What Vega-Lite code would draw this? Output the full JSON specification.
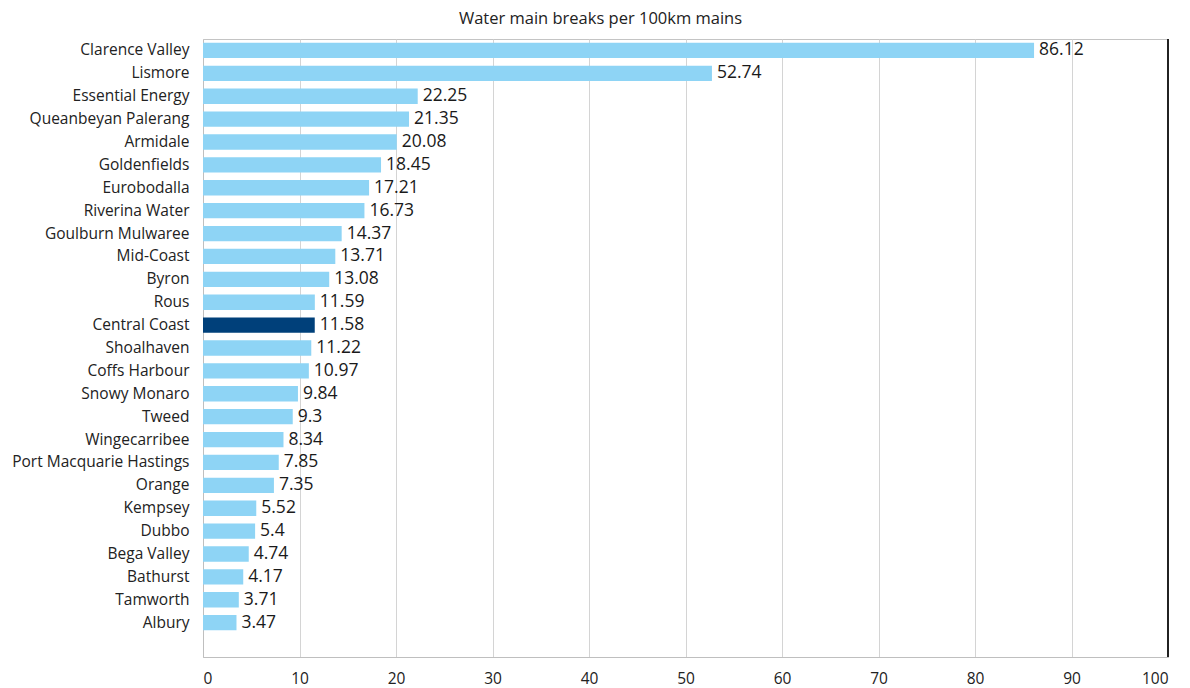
{
  "$schema": "https://vega.github.io/schema/vega-lite/v6.json",
  "width": 965,
  "height": 618,
  "autosize": {"type": "none"},
  "padding": {"left": 203, "top": 39, "right": 22, "bottom": 31},
  "background": "white",
  "title": {
    "text": "Water main breaks per 100km mains",
    "font": "Open Sans",
    "fontSize": 16.5,
    "fontWeight": "normal",
    "color": "#222222",
    "anchor": "middle",
    "frame": "group",
    "offset": 11,
    "dx": -85
  },
  "data": {
    "values": [
      {"council": "Clarence Valley", "breaks": 86.12},
      {"council": "Lismore", "breaks": 52.74},
      {"council": "Essential Energy", "breaks": 22.25},
      {"council": "Queanbeyan Palerang", "breaks": 21.35},
      {"council": "Armidale", "breaks": 20.08},
      {"council": "Goldenfields", "breaks": 18.45},
      {"council": "Eurobodalla", "breaks": 17.21},
      {"council": "Riverina Water", "breaks": 16.73},
      {"council": "Goulburn Mulwaree", "breaks": 14.37},
      {"council": "Mid-Coast", "breaks": 13.71},
      {"council": "Byron", "breaks": 13.08},
      {"council": "Rous", "breaks": 11.59},
      {"council": "Central Coast", "breaks": 11.58},
      {"council": "Shoalhaven", "breaks": 11.22},
      {"council": "Coffs Harbour", "breaks": 10.97},
      {"council": "Snowy Monaro", "breaks": 9.84},
      {"council": "Tweed", "breaks": 9.3},
      {"council": "Wingecarribee", "breaks": 8.34},
      {"council": "Port Macquarie Hastings", "breaks": 7.85},
      {"council": "Orange", "breaks": 7.35},
      {"council": "Kempsey", "breaks": 5.52},
      {"council": "Dubbo", "breaks": 5.4},
      {"council": "Bega Valley", "breaks": 4.74},
      {"council": "Bathurst", "breaks": 4.17},
      {"council": "Tamworth", "breaks": 3.71},
      {"council": "Albury", "breaks": 3.47}
    ]
  },
  "layer": [
    {
      "mark": {"type": "bar"},
      "encoding": {
        "y": {
          "field": "council",
          "type": "nominal",
          "sort": null,
          "scale": {
            "domain": [
              "Clarence Valley", "Lismore", "Essential Energy", "Queanbeyan Palerang",
              "Armidale", "Goldenfields", "Eurobodalla", "Riverina Water",
              "Goulburn Mulwaree", "Mid-Coast", "Byron", "Rous", "Central Coast",
              "Shoalhaven", "Coffs Harbour", "Snowy Monaro", "Tweed", "Wingecarribee",
              "Port Macquarie Hastings", "Orange", "Kempsey", "Dubbo", "Bega Valley",
              "Bathurst", "Tamworth", "Albury", " "
            ],
            "paddingInner": 0.33,
            "paddingOuter": 0.165
          },
          "axis": {
            "title": null,
            "ticks": false,
            "domain": true,
            "domainColor": "#bfbfbf",
            "labelFont": "Open Sans",
            "labelFontSize": 15.5,
            "labelColor": "#222222",
            "labelPadding": 14,
            "grid": false
          }
        },
        "x": {
          "field": "breaks",
          "type": "quantitative",
          "scale": {"domain": [0, 100], "nice": false},
          "axis": {
            "title": null,
            "values": [0, 10, 20, 30, 40, 50, 60, 70, 80, 90, 100],
            "grid": true,
            "gridColor": "#d4d4d4",
            "ticks": false,
            "domainColor": "#bfbfbf",
            "labelFont": "Open Sans",
            "labelFontSize": 15.5,
            "labelColor": "#222222",
            "labelPadding": 14
          }
        },
        "color": {
          "condition": {"test": "datum.council === 'Central Coast'", "value": "#00407a"},
          "value": "#8ed4f5"
        }
      }
    },
    {
      "mark": {
        "type": "text",
        "align": "left",
        "baseline": "middle",
        "dx": 5,
        "font": "Open Sans",
        "fontSize": 17.5,
        "color": "#1a1a1a"
      },
      "encoding": {
        "y": {"field": "council", "type": "nominal", "sort": null},
        "x": {"field": "breaks", "type": "quantitative"},
        "text": {"field": "breaks", "type": "nominal"}
      }
    },
    {
      "mark": {"type": "rule", "color": "#222222", "strokeWidth": 1.3},
      "encoding": {
        "x": {"datum": 100, "type": "quantitative"}
      }
    }
  ],
  "config": {
    "view": {"stroke": "#c4c4c4", "strokeWidth": 1}
  }
}
